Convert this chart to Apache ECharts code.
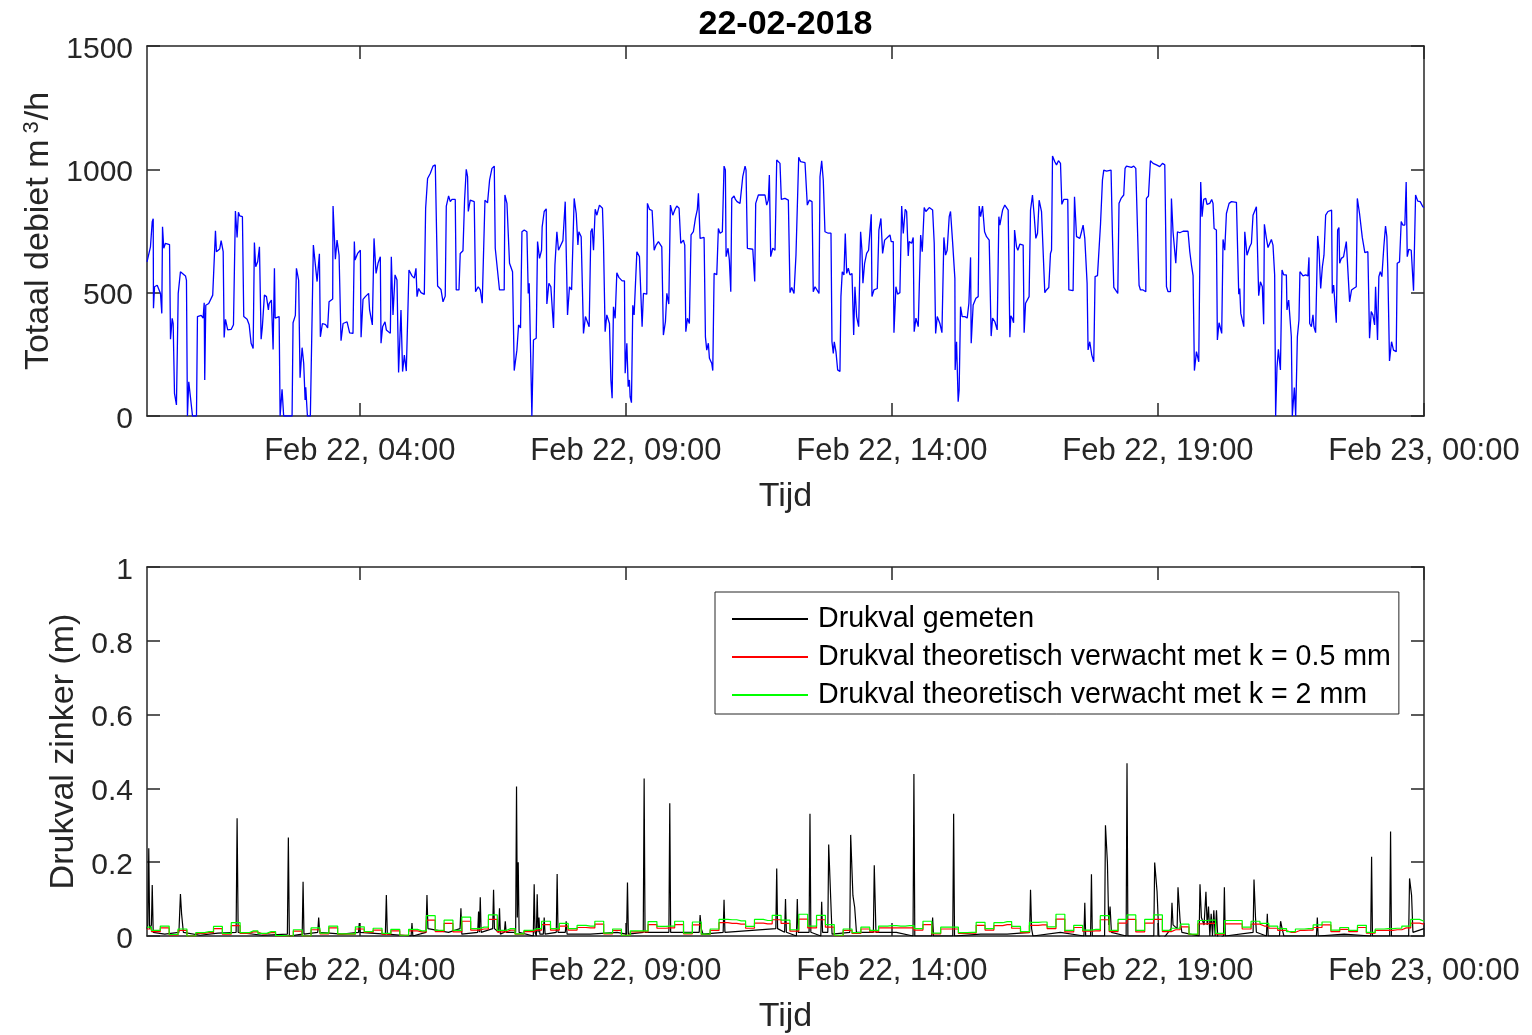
<!DOCTYPE html>
<html><head><meta charset="utf-8">
<script src="https://cdn.jsdelivr.net/npm/echarts@6/dist/echarts.min.js"></script>
<style>html,body{margin:0;padding:0;background:#fff}#c{width:1532px;height:1035px}</style>
</head><body><div id="c"></div><script>
// time in minutes after Feb 22 00:00
const xTickMinutes = [240, 540, 840, 1140, 1440];
const xTickLabels = ['Feb 22, 04:00', 'Feb 22, 09:00', 'Feb 22, 14:00', 'Feb 22, 19:00', 'Feb 23, 00:00'];
const legendNames = ['Drukval gemeten', 'Drukval theoretisch verwacht met k = 0.5 mm', 'Drukval theoretisch verwacht met k = 2 mm'];

// Totaal debiet [minute, m3/h]
const flowPoints = [[0,625],[3.9,686],[5.9,788],[7.0,800],[7.3,437],[8.5,524],[11.5,530],[15.2,497],[16.7,416],[17.5,767],[18.9,680],[20.8,700],[25.4,695],[26.5,311],[28.4,396],[29.5,375],[31.0,92],[33.2,45],[35.2,497],[37.7,585],[43.4,568],[44.5,550],[45.6,0],[47.1,139],[49.0,133],[51.3,0],[55.8,0],[56.9,403],[61.1,408],[63.3,397],[64.5,459],[65.1,146],[66.3,449],[69.6,456],[74.1,490],[76.1,494],[77.2,751],[78.3,666],[82.0,677],[83.6,711],[85.9,666],[87.0,318],[88.5,392],[91.0,349],[94.9,351],[97.5,370],[99.7,831],[101.6,724],[103.1,826],[104.6,811],[107.6,808],[109.1,403],[112.9,392],[115.2,370],[117.4,295],[119.7,274],[121.1,703],[122.6,605],[124.8,625],[126.8,686],[128.7,311],[130.1,362],[132.4,490],[134.7,484],[136.9,430],[137.7,456],[140.3,470],[142.2,270],[143.7,599],[144.5,397],[149.0,403],[150.1,0],[152.3,108],[154.1,0],[163.6,0],[164.7,378],[167.3,408],[168.5,599],[171.0,550],[172.6,155],[174.9,277],[176.7,214],[178.3,65],[179.0,116],[180.9,0],[184.2,0],[187.6,693],[189.1,639],[191.8,545],[194.4,658],[195.5,321],[197.8,375],[201.5,370],[203.7,357],[205.3,463],[209.4,474],[209.8,851],[212.4,636],[214.3,713],[216.6,652],[218.8,305],[221.1,375],[225.6,382],[228.5,337],[232.3,335],[233.8,707],[234.6,632],[237.5,659],[240.6,672],[241.4,319],[243.6,473],[246.2,484],[249.9,497],[251.0,430],[254.1,369],[256.0,720],[258.3,578],[260.5,619],[263.1,646],[263.9,295],[265.7,362],[268.4,382],[269.9,349],[274.4,335],[275.5,646],[277.4,410],[279.7,572],[281.9,551],[283.7,176],[286.4,430],[288.2,180],[290.2,247],[292.4,182],[295.4,592],[298.8,568],[301.4,559],[303.3,599],[304.5,484],[306.3,517],[309.0,500],[312.7,493],[314.2,842],[316.4,963],[319.4,983],[322.5,1013],[325.1,1018],[327.7,527],[331.5,513],[333.8,463],[336.3,486],[337.5,851],[340.1,892],[342.0,869],[343.9,878],[347.6,878],[348.7,511],[351.8,511],[353.2,659],[356.3,670],[358.1,875],[360.0,1000],[361.5,970],[362.3,829],[364.5,875],[369.0,869],[370.5,504],[373.5,524],[375.8,511],[378.0,457],[379.5,457],[381.1,875],[384.0,864],[386.3,956],[389.0,1004],[391.6,1013],[392.7,680],[394.6,686],[397.5,511],[402.8,511],[403.6,896],[405.9,862],[408.8,619],[412.2,585],[414.1,184],[415.6,184],[417.1,267],[419.0,369],[421.2,357],[422.8,747],[425.4,754],[428.4,747],[429.9,497],[431.0,538],[434.0,0],[435.8,308],[438.9,315],[440.4,707],[442.6,639],[444.9,672],[445.6,767],[447.9,829],[450.2,840],[450.9,454],[453.2,538],[455.4,524],[458.4,357],[460.0,612],[462.2,747],[464.0,672],[466.7,693],[469.0,711],[471.6,869],[474.2,410],[476.4,524],[478.8,511],[481.7,882],[484.0,821],[485.9,693],[487.0,747],[489.6,727],[491.5,724],[492.2,335],[494.4,403],[498.6,362],[500.5,747],[502.0,760],[503.5,672],[505.4,838],[507.3,814],[510.2,855],[513.6,842],[514.7,713],[516.6,342],[518.5,410],[521.5,375],[523.1,146],[524.5,72],[526.0,443],[527.9,396],[529.8,581],[532.1,562],[534.3,565],[535.8,548],[538.4,548],[539.2,173],[541.1,295],[542.6,119],[544.0,146],[544.8,78],[546.3,54],[547.8,449],[549.3,410],[552.4,666],[555.3,646],[557.5,643],[558.3,362],[559.8,497],[563.6,494],[564.3,862],[566.6,838],[569.6,833],[571.9,672],[574.1,693],[576.7,707],[580.5,686],[582.3,328],[584.6,382],[586.2,497],[588.4,454],[590.2,855],[592.9,814],[595.5,838],[597.4,851],[600.0,842],[601.9,700],[604.9,713],[606.4,693],[607.6,342],[609.4,396],[611.6,375],[613.5,734],[616.1,747],[618.4,801],[620.6,838],[621.8,903],[623.7,720],[628.2,724],[629.7,321],[631.2,267],[633.0,295],[634.2,234],[636.8,214],[638.0,184],[639.5,578],[642.5,573],[644.3,760],[646.2,741],[648.8,747],[650.7,1013],[652.2,997],[653.0,646],[655.2,680],[656.7,632],[658.3,504],[659.4,882],[662.0,892],[663.5,878],[665.4,869],[668.7,862],[670.7,855],[671.8,970],[674.4,1013],[675.5,997],[677.0,680],[679.2,686],[683.1,676],[685.3,545],[686.4,862],[689.4,896],[696.9,896],[698.8,855],[700.6,875],[701.8,977],[703.3,646],[705.6,680],[708.2,672],[710.1,1038],[711.9,1044],[713.8,1024],[715.3,878],[719.4,882],[723.2,875],[725.1,500],[727.0,521],[729.6,497],[731.8,652],[734.9,1049],[737.1,1031],[742.0,1027],[744.6,855],[746.8,875],[749.9,869],[751.3,504],[753.3,524],[757.8,497],[758.9,970],[760.8,1035],[762.6,956],[764.5,747],[768.2,741],[771.3,741],[772.4,301],[773.9,254],[775.0,301],[776.9,261],[778.8,187],[781.4,180],[782.5,484],[784.0,585],[785.9,572],[787.4,740],[789.0,578],[790.8,599],[792.7,572],[795.0,578],[796.9,328],[798.3,524],[800.2,403],[802.5,362],[804.7,747],[806.2,672],[807.3,538],[809.2,619],[811.5,659],[813.7,672],[816.7,818],[817.5,484],[819.7,511],[823.5,517],[825.3,754],[827.6,801],[829.5,659],[831.8,713],[834.0,716],[837.8,734],[839.2,707],[841.5,707],[842.3,338],[844.5,524],[846.4,494],[849.0,500],[851.0,851],[852.8,740],[855.0,838],[856.6,829],[858.4,649],[859.5,707],[862.2,700],[864.0,724],[865.1,342],[867.1,397],[869.7,362],[872.4,734],[874.2,666],[876.4,845],[878.3,829],[882.1,845],[885.9,835],[887.7,700],[889.3,335],[891.1,403],[894.1,375],[896.4,338],[897.8,338],[898.6,724],[900.5,652],[902.3,672],[904.6,808],[906.1,829],[908.4,707],[911.0,558],[911.3,187],[912.9,301],[914.7,58],[915.8,105],[917.4,443],[919.2,403],[922.3,403],[924.9,397],[926.8,457],[928.7,643],[929.4,295],[931.6,450],[934.7,477],[937.3,484],[938.4,851],[940.0,808],[942.2,851],[944.5,747],[946.7,727],[949.7,713],[951.9,324],[953.5,397],[956.1,382],[958.7,349],[960.6,808],[961.7,774],[964.8,835],[967.3,855],[971.1,835],[973.0,319],[974.1,406],[975.6,397],[977.2,378],[978.3,754],[980.5,686],[982.0,672],[984.3,697],[988.0,693],[989.1,338],[990.7,457],[994.7,484],[996.3,835],[998.5,896],[1000.4,814],[1002.3,720],[1004.2,741],[1006.0,875],[1008.7,829],[1010.5,821],[1012.4,500],[1014.3,511],[1016.9,521],[1018.8,659],[1020.0,672],[1021.1,1054],[1023.7,1031],[1025.6,1018],[1027.8,1035],[1030.1,1024],[1031.6,858],[1033.8,878],[1038.3,878],[1039.5,511],[1041.4,513],[1044.3,508],[1045.9,889],[1048.2,727],[1050.0,720],[1051.9,720],[1053.8,747],[1055.6,774],[1057.5,720],[1058.6,727],[1060.1,538],[1061.2,268],[1063.1,301],[1065.4,247],[1067.6,220],[1069.1,565],[1071.8,569],[1073.6,569],[1075.2,776],[1077.4,956],[1078.9,997],[1082.0,993],[1084.2,1001],[1087.1,997],[1088.7,727],[1090.2,521],[1092.4,517],[1094.7,497],[1096.1,862],[1098.4,882],[1101.4,896],[1102.9,1004],[1104.5,1013],[1110.1,1008],[1112.7,1013],[1115.0,1004],[1117.2,1004],[1118.7,530],[1120.3,511],[1123.2,511],[1126.3,504],[1127.0,882],[1129.3,892],[1131.5,1035],[1134.5,1024],[1138.3,1018],[1142.0,1011],[1145.1,1024],[1147.7,1018],[1149.6,524],[1151.4,504],[1154.1,504],[1155.2,882],[1157.0,747],[1160.1,619],[1162.0,747],[1164.6,743],[1168.3,749],[1170.2,757],[1173.9,749],[1175.0,752],[1175.9,666],[1177.8,612],[1179.6,569],[1181.1,184],[1183.4,261],[1186.0,220],[1188.2,949],[1189.7,808],[1191.6,878],[1193.9,882],[1195.3,858],[1198.4,862],[1200.6,878],[1202.1,862],[1203.3,760],[1205.9,754],[1207.0,308],[1208.9,378],[1211.9,335],[1213.4,716],[1215.3,672],[1217.2,821],[1220.2,862],[1222.9,869],[1228.5,866],[1230.3,869],[1231.1,494],[1232.2,517],[1233.4,416],[1234.8,410],[1236.8,362],[1237.9,747],[1240.4,652],[1243.5,686],[1245.4,700],[1247.2,814],[1251.0,848],[1252.8,855],[1253.6,488],[1255.5,544],[1257.7,524],[1259.2,372],[1260.0,777],[1262.3,720],[1264.1,683],[1267.9,716],[1269.7,693],[1271.6,572],[1272.7,0],[1274.2,196],[1275.8,270],[1277.3,267],[1278.1,187],[1279.9,592],[1281.8,572],[1284.8,572],[1285.5,430],[1287.4,470],[1289.3,470],[1290.4,321],[1291.5,0],[1293.8,115],[1295.3,0],[1297.2,321],[1299.0,389],[1300.1,585],[1302.1,585],[1303.5,568],[1306.6,572],[1309.1,568],[1310.3,643],[1311.1,375],[1313.0,362],[1314.8,410],[1315.9,362],[1317.8,338],[1320.1,730],[1321.6,672],[1323.5,517],[1325.4,605],[1327.2,652],[1329.1,814],[1331.7,829],[1333.6,824],[1335.8,835],[1336.6,497],[1338.1,531],[1340.3,531],[1341.1,378],[1342.6,754],[1344.1,764],[1344.9,619],[1346.8,639],[1349.3,646],[1352.4,707],[1354.6,700],[1356.1,463],[1358.3,511],[1360.6,517],[1363.6,524],[1364.8,882],[1367.3,821],[1370.4,724],[1371.8,720],[1373.3,662],[1376.7,666],[1378.6,315],[1380.5,423],[1382.3,410],[1384.3,369],[1385.4,524],[1387.6,308],[1389.1,565],[1390.7,585],[1392.5,565],[1394.7,686],[1396.6,770],[1398.1,727],[1399.2,592],[1400.4,592],[1401.1,223],[1403.4,301],[1405.6,267],[1408.7,261],[1409.8,619],[1412.4,625],[1414.3,788],[1416.1,774],[1418.4,774],[1419.9,949],[1421.1,646],[1422.9,676],[1425.6,672],[1428.2,508],[1430.5,896],[1433.0,871],[1435.7,869],[1438.7,848],[1440,845]];

// Drukval gemeten [minute, m]
const measuredPoints = [[0,0.02],[1,0.03],[2,0.238],[3,0.02],[5,0.03],[5.9,0.138],[7,0.01],[20,0.005],[36,0.01],[37.7,0.114],[39,0.06],[41,0.01],[60,0.002],[80,0.008],[100.5,0.01],[101.6,0.319],[102.8,0.01],[130,0.002],[158.3,0.005],[159.4,0.267],[160.5,0.0],[175,0.005],[176,0.147],[177,0.005],[192.5,0.01],[193.6,0.05],[194.7,0.01],[220,0.005],[238.5,0.01],[239.4,0.035],[240.3,0.01],[268.8,0.005],[269.9,0.111],[271,0.005],[297.8,0.0],[298.8,0.035],[299.8,0.0],[314.6,0.01],[315.7,0.111],[316.8,0.02],[340,0.01],[353,0.02],[354,0.075],[355,0.005],[372.9,0.01],[373.9,0.066],[374.8,0.01],[375.8,0.105],[376.8,0.01],[389.8,0.02],[390.8,0.125],[391.8,0.02],[396.5,0.01],[397.5,0.075],[398.5,0.005],[403,0.01],[404,0.04],[405,0.01],[415.7,0.01],[416.7,0.405],[417.6,0.05],[418.6,0.2],[419.6,0.01],[435.6,0.0],[436.6,0.14],[437.6,0.01],[439,0.0],[440,0.113],[441,0.01],[442,0.05],[443,0.005],[446.9,0.005],[447.9,0.05],[448.9,0.005],[461.5,0.01],[462.5,0.168],[463.5,0.01],[471.7,0.01],[472.7,0.04],[473.7,0.005],[500,0.005],[530,0.01],[540.8,0.005],[541.8,0.145],[542.8,0.005],[559.6,0.01],[560.6,0.427],[561.6,0.01],[588.5,0.01],[589.5,0.36],[590.5,0.01],[622.7,0.01],[623.7,0.057],[625,0.02],[627,0.005],[649.7,0.01],[650.7,0.098],[651.7,0.01],[709.1,0.02],[710.1,0.183],[711.1,0.02],[719,0.01],[720,0.1],[721,0.01],[732.3,0.0],[733.3,0.1],[734.3,0.01],[746.6,0.01],[747.6,0.331],[748.6,0.01],[759.8,0.0],[760.8,0.093],[761.8,0.01],[767.7,0.01],[768.7,0.248],[771,0.1],[772.5,0.005],[792.5,0.01],[793.5,0.274],[796,0.11],[798,0.078],[800,0.01],[819.1,0.01],[820.1,0.192],[822,0.01],[845,0.01],[863.8,0.0],[864.8,0.439],[865.8,0.0],[884.9,0.0],[885.9,0.05],[886.9,0.0],[908.6,0.0],[909.6,0.331],[910.6,0.0],[940,0.005],[970,0.005],[995.3,0.01],[996.3,0.125],[997.5,0.02],[999,0.0],[1030,0.01],[1056.5,0.0],[1057.5,0.09],[1058.5,0.0],[1064,0.0],[1065,0.167],[1066,0.0],[1079.8,0.0],[1080.8,0.3],[1083,0.2],[1084.5,0.03],[1086,0.08],[1087.5,0.01],[1104.1,0.0],[1105.1,0.468],[1106.1,0.0],[1135.3,0.0],[1136.3,0.199],[1139,0.12],[1141,0.0],[1145,-0.01],[1154.8,0.02],[1155.8,0.09],[1157,0.03],[1161.6,0.02],[1162.6,0.132],[1165,0.04],[1167,0.01],[1186.4,0.0],[1187.4,0.14],[1189,0.05],[1192,0.03],[1194.1,0.12],[1195.5,0.03],[1197,0.08],[1198.5,0.0],[1200,0.06],[1201.5,0.0],[1203,0.07],[1204.5,0.0],[1206,0.07],[1207.5,-0.01],[1213.9,0.0],[1214.9,0.132],[1215.9,0.0],[1247.3,0.01],[1248.3,0.153],[1250,0.05],[1251,0.01],[1262.3,0.0],[1263.3,0.06],[1264.3,0.0],[1277,0.0],[1278.3,0.04],[1280,0.02],[1282,0.0],[1300,0.0],[1318.7,0.0],[1319.7,0.05],[1320.7,0.0],[1350,0.005],[1379.9,0.0],[1380.9,0.215],[1381.9,0.0],[1401.3,0.0],[1402.3,0.283],[1403.3,0.0],[1422.7,0.0],[1423.7,0.156],[1426,0.11],[1427.5,0.01],[1440,0.02]];

// theoretical pressure drop, sampled every 10 minutes (0..1440)
const redValues = [
 .019,.012,.022,.003,.015,0,.007,.009,.020,.005,
 .028,.007,.011,.006,.009,0,0,.013,0,.017,
 .006,.022,.005,.005,.019,.010,.016,.005,.014,.002,
 .014,.011,.043,.012,.034,.011,.040,.016,.019,.045,
 .011,.016,.005,.012,.016,.031,.016,.027,.016,.023,
 .022,.032,.006,.015,.002,.011,.011,.031,.021,.022,
 .031,.006,.030,.004,.015,.036,.034,.032,.021,.035,
 .033,.044,.034,.013,.046,.022,.044,.024,.001,.015,
 .007,.019,.011,.022,.022,.022,.022,.016,.031,.006,
 .019,.019,.007,.008,.029,.016,.028,.031,.021,.009,
 .029,.030,.020,.046,.011,.023,.013,.014,.044,.012,
 .035,.045,.011,.035,.045,.012,.017,.025,.004,.033,
 .034,.005,.033,.033,.019,.032,.027,.021,.015,.010,
 .015,.016,.023,.030,.012,.018,.012,.023,.008,.015,
 .015,.017,.022,.035,.032];
const greenValues = [
 .024,.015,.027,.004,.019,0,.009,.012,.026,.007,
 .036,.009,.014,.007,.012,.001,0,.017,0,.022,
 .008,.027,.006,.006,.025,.012,.021,.007,.018,.002,
 .018,.014,.055,.015,.043,.015,.051,.020,.024,.057,
 .015,.020,.006,.015,.020,.040,.020,.034,.020,.029,
 .027,.040,.008,.019,.002,.014,.014,.039,.026,.027,
 .040,.008,.038,.005,.019,.045,.044,.041,.026,.045,
 .042,.056,.043,.017,.059,.027,.056,.031,.002,.019,
 .009,.024,.015,.027,.028,.027,.028,.020,.040,.008,
 .024,.024,.009,.010,.037,.020,.036,.039,.026,.012,
 .037,.038,.025,.059,.015,.029,.016,.018,.055,.015,
 .045,.057,.015,.045,.057,.015,.021,.032,.005,.042,
 .043,.007,.042,.042,.024,.040,.034,.027,.020,.012,
 .019,.020,.030,.038,.016,.023,.015,.029,.010,.019,
 .020,.021,.027,.045,.040];
const sampleMinutes = redValues.map((_, i) => i * 10);

const font = '"Liberation Sans", Arial, Helvetica, sans-serif';
const axisColor = '#262626';
const lw = 1.5;

function xAxes(grid) {
  const common = {
    gridIndex: grid, type: 'value', min: 0, max: 1440,
    axisLine: { show: true, onZero: false, lineStyle: { color: axisColor, width: lw } },
    axisTick: { show: true, inside: true, length: 13, customValues: xTickMinutes, lineStyle: { color: axisColor, width: lw } },
    splitLine: { show: false }
  };
  return [
    Object.assign({}, common, {
      position: 'bottom',
      axisLabel: { show: true, customValues: xTickMinutes, margin: 20, fontSize: 31, color: axisColor, fontFamily: font,
        formatter: v => xTickLabels[xTickMinutes.indexOf(v)] },
      name: 'Tijd', nameLocation: 'middle', nameGap: 64,
      nameTextStyle: { fontSize: 34, color: axisColor, fontFamily: font }
    }),
    Object.assign({}, common, { position: 'top', axisLabel: { show: false } })
  ];
}
function yAxes(grid, max, interval, name, gap, rich) {
  const common = {
    gridIndex: grid, type: 'value', min: 0, max: max, interval: interval,
    axisLine: { show: true, onZero: false, lineStyle: { color: axisColor, width: lw } },
    axisTick: { show: true, inside: true, length: 13, lineStyle: { color: axisColor, width: lw } },
    splitLine: { show: false }
  };
  return [
    Object.assign({}, common, {
      position: 'left',
      axisLabel: { show: true, margin: 14, fontSize: 30, color: axisColor, fontFamily: font,
        formatter: v => '{t|' + String(v) + '}',
        rich: { t: { fontSize: 30, color: axisColor, fontFamily: font, padding: [7, 0, 0, 0] } } },
      name: name, nameLocation: 'middle', nameGap: gap,
      nameTextStyle: { fontSize: 34, color: axisColor, fontFamily: font, rich: rich }
    }),
    Object.assign({}, common, { position: 'right', axisLabel: { show: false } })
  ];
}

const supRich = {
  sup: { fontSize: 22, color: axisColor, fontFamily: font, verticalAlign: 'top', padding: [0, 1, 0, 6] }
};

const chart = echarts.init(document.getElementById('c'), null, { renderer: 'canvas' });
chart.setOption({
  animation: false,
  backgroundColor: '#fff',
  textStyle: { fontFamily: font },
  title: {
    text: '22-02-2018', left: 785.5, top: 8, textAlign: 'center', padding: 0,
    textStyle: { fontSize: 34, fontWeight: 'bold', color: '#000', fontFamily: font }
  },
  grid: [
    { left: 147, top: 46, width: 1277, height: 370 },
    { left: 147, top: 567, width: 1277, height: 369 }
  ],
  legend: {
    data: legendNames, orient: 'vertical', left: 715, top: 592,
    padding: [12, 8, 4, 17], itemGap: 8, itemWidth: 76, itemHeight: 2, icon: 'rect',
    backgroundColor: '#fff', borderColor: axisColor, borderWidth: 1,
    textStyle: { fontSize: 28.6, color: '#000', fontFamily: font, padding: [0, 0, 0, 5], lineHeight: 30 }
  },
  xAxis: xAxes(0).concat(xAxes(1)),
  yAxis: yAxes(0, 1500, 500, 'Totaal debiet m{sup|3}/h', 82, supRich).concat(yAxes(1, 1, 0.2, 'Drukval zinker (m)', 62)),
  series: [
    { name: 'Totaal debiet', type: 'line', xAxisIndex: 0, yAxisIndex: 0, data: flowPoints,
      showSymbol: false, symbol: 'none', lineStyle: { color: '#0000ff', width: 1.3 }, itemStyle: { color: '#0000ff' } },
    { name: legendNames[0], type: 'line', xAxisIndex: 2, yAxisIndex: 2, data: measuredPoints,
      showSymbol: false, symbol: 'none', lineStyle: { color: '#000000', width: 1.2 }, itemStyle: { color: '#000000' } },
    { name: legendNames[1], type: 'line', xAxisIndex: 2, yAxisIndex: 2, step: 'middle',
      data: sampleMinutes.map((t, i) => [t, redValues[i]]),
      showSymbol: false, symbol: 'none', lineStyle: { color: '#ff0000', width: 1.2 }, itemStyle: { color: '#ff0000' } },
    { name: legendNames[2], type: 'line', xAxisIndex: 2, yAxisIndex: 2, step: 'middle',
      data: sampleMinutes.map((t, i) => [t, greenValues[i]]),
      showSymbol: false, symbol: 'none', lineStyle: { color: '#00ff00', width: 1.2 }, itemStyle: { color: '#00ff00' } }
  ]
});
</script></body></html>
